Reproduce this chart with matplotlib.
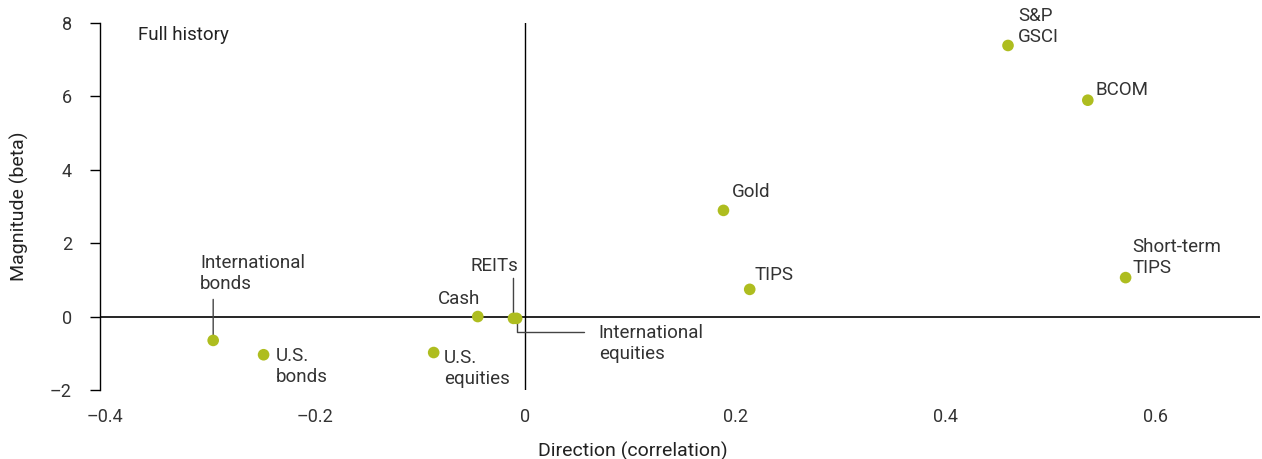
import matplotlib
matplotlib.use("Agg")
import matplotlib.pyplot as plt
from matplotlib import font_manager

names = ["S&P\nGSCI", "BCOM", "Gold", "TIPS", "Short-term\nTIPS",
         "International\nbonds", "U.S.\nbonds", "U.S.\nequities", "Cash",
         "REITs", "International\nequities"]
correlation = [0.460, 0.536, 0.189, 0.214, 0.572, -0.297, -0.249, -0.087, -0.045, -0.011, -0.008]
beta = [7.38, 5.89, 2.89, 0.74, 1.06, -0.65, -1.04, -0.98, 0.00, -0.05, -0.05]
x_ticks = [-0.4, -0.2, 0, 0.2, 0.4, 0.6]
x_tick_labels = ["\u20130.4", "\u20130.2", "0", "0.2", "0.4", "0.6"]
y_ticks = [-2, 0, 2, 4, 6, 8]
y_tick_labels = ["\u20132", "0", "2", "4", "6", "8"]

avail = {f.name for f in font_manager.fontManager.ttflist}
tick_font = "Roboto" if "Roboto" in avail else "DejaVu Sans"
label_font = "Roboto" if "Roboto" in avail else "DejaVu Sans"

DOT = "#AEBD1F"
TXT = "#333333"

fig = plt.figure(figsize=(12.62, 4.59), dpi=100)
W, H = 1262, 459
ax_left, ax_right, ax_top, ax_bottom = 100, 1260, 22.7, 390
aw, ah = ax_right - ax_left, ax_bottom - ax_top
ax = fig.add_axes([ax_left / W, 1 - ax_bottom / H, aw / W, ah / H])
ax.set_xlim(-0.4048, 0.7)
ax.set_ylim(-2, 8)

for s in ["top", "right", "bottom"]:
    ax.spines[s].set_visible(False)
ax.spines["left"].set_linewidth(1.0)
ax.spines["left"].set_color("black")

ax.axhline(0, color="black", lw=1.2, zorder=1)
ax.plot([0, 0], [-2, 8], color="black", lw=1.0, zorder=1)

ax.set_xticks(x_ticks)
ax.set_xticklabels(x_tick_labels, fontfamily=tick_font, fontsize=13, color=TXT)
ax.tick_params(axis="x", length=0, pad=13)
ax.set_yticks(y_ticks)
ax.set_yticklabels(y_tick_labels, fontfamily=tick_font, fontsize=13, color=TXT)
ax.tick_params(axis="y", length=7.2, width=1, pad=13)

ax.set_xlabel("Direction (correlation)", fontfamily=label_font, fontsize=14, color="#222222")
ax.xaxis.set_label_coords((633 - ax_left) / aw, -(442 - ax_bottom) / ah)
ax.set_ylabel("Magnitude (beta)", fontfamily=label_font, fontsize=14, color="#222222")
ax.yaxis.set_label_coords(-(ax_left - 29) / aw, 0.5)

ax.text(38 / aw, 1 - (35 - ax_top) / ah, "Full history", transform=ax.transAxes,
        fontsize=13.5, fontfamily=label_font, color="#222222", ha="left", va="center")

ax.scatter(correlation, beta, s=70, color=DOT, edgecolors="none", zorder=4)

# label offsets in pixels (dx, dy), alignment
offsets = {
    "S&P\nGSCI": (10, 19, "left"),
    "BCOM": (8, 10, "left"),
    "Gold": (8, 18, "left"),
    "TIPS": (5, 14, "left"),
    "Short-term\nTIPS": (7, 20, "left"),
    "International\nbonds": (-13, 67, "left"),
    "U.S.\nbonds": (12, -12, "left"),
    "U.S.\nequities": (10, -16, "left"),
    "Cash": (2, 18, "right"),
    "REITs": (-19, 52, "center"),
    "International\nequities": (82, -25, "left"),
}
for n, x, y in zip(names, correlation, beta):
    dx, dy, ha = offsets[n]
    ax.annotate(n, xy=(x, y), xytext=(dx, dy), textcoords="offset pixels",
                ha=ha, va="center", fontsize=13.5, fontfamily=label_font,
                color=TXT, linespacing=1.25, zorder=5)

lead = dict(arrowstyle="-", color="#444444", lw=1.0, shrinkA=0, shrinkB=0)
i = names.index("International\nbonds")
ax.annotate("", xy=(correlation[i], beta[i]), xytext=(0, 41), textcoords="offset pixels",
            arrowprops=lead, zorder=3)
i = names.index("REITs")
ax.annotate("", xy=(correlation[i], beta[i]), xytext=(0, 40), textcoords="offset pixels",
            arrowprops=lead, zorder=3)
i = names.index("International\nequities")
ax.annotate("", xy=(correlation[i], beta[i]), xytext=(67, -14), textcoords="offset pixels",
            arrowprops=dict(lead, connectionstyle="angle,angleA=0,angleB=90,rad=0"), zorder=3)

fig.savefig("out.png", dpi=100)
